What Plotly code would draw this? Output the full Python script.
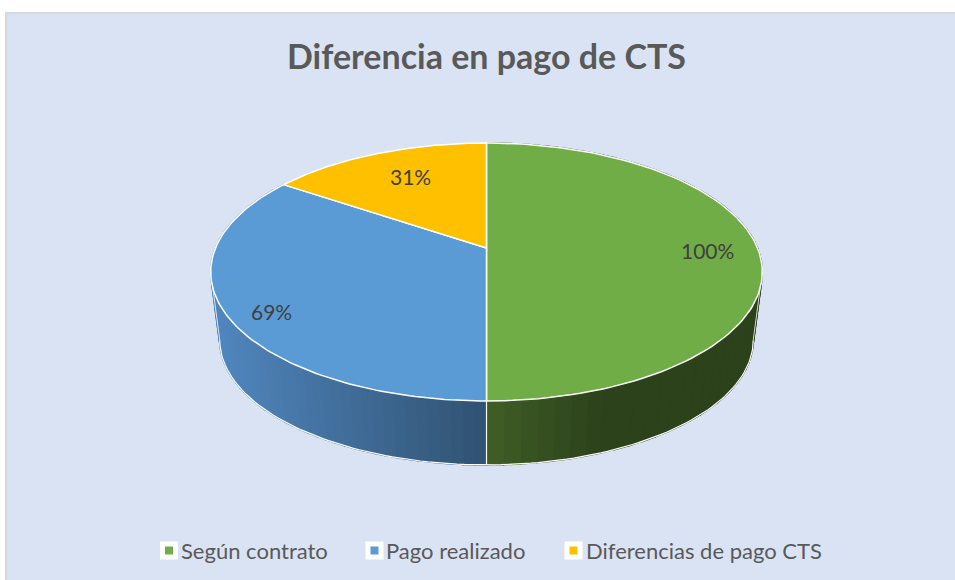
import numpy as np
import plotly.graph_objects as go

W, H = 955, 580

labels = ["Según contrato", "Pago realizado", "Diferencias de pago CTS"]
values = [100, 69, 31]
top_colors = ["#70ad47", "#5b9bd5", "#ffc000"]
# side wall gradient, left colour -> right colour and the x range it spans
wall_shades = [
    ((64, 94, 38), (44, 66, 27), 487, 600),
    ((80, 134, 190), (48, 82, 114), 215, 486),
    None,
]
label_x = [707, 271, 410]
label_y = [250, 311, 176]
legend_swatch_x = [169, 374.5, 573.5]
legend_text_x = [178.5, 384, 584]
legend_y = 550.5

# perspective of the tilted disc, in page pixels
CX, CY = 486.5, 248
RX, RY = 271, 124.5
K = 0.186
DROP, SHRINK = 69, 0.967


def project(theta, bottom=False):
    u, v = np.sin(theta), np.cos(theta)
    w = 1 + K * v
    x, y = RX * u / w, -RY * v / w
    if bottom:
        return CX + SHRINK * x, CY + DROP + SHRINK * y
    return CX + x, CY + y


def mix(a, b, t):
    t = min(max(t, 0), 1)
    c = [round(a[i] + (b[i] - a[i]) * t) for i in range(3)]
    return f"rgb({c[0]},{c[1]},{c[2]})"


def white_line(x, y, width=1.2):
    return go.Scatter(
        x=x, y=y, mode="lines",
        line=dict(color="white", width=width),
        hoverinfo="skip", showlegend=False,
    )


fig = go.Figure()

edges = np.cumsum([0] + values) / sum(values) * 2 * np.pi

# side walls first, top faces are painted over them
for i in range(len(values)):
    if wall_shades[i] is None:
        continue
    left, right, x0, x1 = wall_shades[i]
    steps = np.linspace(edges[i], edges[i + 1], 61)
    for a, b in zip(steps[:-1], steps[1:]):
        t = np.array([a, b])
        xt, yt = project(t)
        xb, yb = project(t, bottom=True)
        color = mix(left, right, (xt.mean() - x0) / (x1 - x0))
        fig.add_trace(go.Scatter(
            x=[xt[0], xt[1], xb[1], xb[0], xt[0]],
            y=[yt[0], yt[1], yb[1], yb[0], yt[0]],
            mode="lines",
            fill="toself",
            fillcolor=color,
            line=dict(color=color, width=1.5),
            hoverinfo="skip",
            showlegend=False,
        ))

# lower outline, only where the bottom rim is the silhouette
tangent = np.arccos(-K)
rim = np.linspace(tangent, 2 * np.pi - tangent, 121)
xb, yb = project(rim, bottom=True)
fig.add_trace(white_line(xb, yb, 1.2))

# silhouette edges from the top rim down to the bottom rim
for t in [tangent, 2 * np.pi - tangent]:
    sx, sy = project(np.array([t]))
    bx, by = project(np.array([t]), bottom=True)
    fig.add_trace(white_line([sx[0], bx[0]], [sy[0], by[0]], 0.8))

# seam between the two visible walls
sx, sy = project(np.array([np.pi]))
bx, by = project(np.array([np.pi]), bottom=True)
fig.add_trace(white_line([sx[0], bx[0]], [sy[0], by[0]], 1.2))

# top faces
for i in range(len(values)):
    t = np.linspace(edges[i], edges[i + 1], 121)
    x, y = project(t)
    fig.add_trace(go.Scatter(
        x=np.r_[CX, x, CX],
        y=np.r_[CY, y, CY],
        mode="lines",
        fill="toself",
        fillcolor=top_colors[i],
        line=dict(color="white", width=1.5),
        name=labels[i],
        showlegend=False,
        hovertemplate=f"{labels[i]}: {values[i]}%<extra></extra>",
    ))

# legend row
for i in range(len(values)):
    fig.add_trace(go.Scatter(
        x=[legend_swatch_x[i]], y=[legend_y], mode="markers",
        marker=dict(symbol="square", size=13, color=top_colors[i],
                    line=dict(color="white", width=5)),
        name=labels[i],
        hoverinfo="skip",
        showlegend=False,
    ))
    fig.add_annotation(
        x=legend_text_x[i], y=legend_y, text=labels[i], showarrow=False,
        xanchor="left",
        font=dict(family="Lato", size=22, color="#595959"),
    )

for i in range(len(values)):
    fig.add_annotation(
        x=label_x[i], y=label_y[i], text=f"{values[i]}%", showarrow=False,
        font=dict(family="Lato", size=21, color="#404040"),
    )

fig.update_layout(
    width=W,
    height=H,
    margin=dict(l=0, r=0, t=0, b=0),
    paper_bgcolor="white",
    plot_bgcolor="white",
    title=dict(
        text="Diferencia en pago de CTS",
        x=486.5 / W, y=1 - 57 / H, xanchor="center", yanchor="middle",
        font=dict(family="Lato", size=34, color="#595959", weight=700),
    ),
    xaxis=dict(range=[0, W], visible=False, fixedrange=True),
    yaxis=dict(range=[H, 0], visible=False, fixedrange=True),
    showlegend=False,
    shapes=[dict(
        type="rect", xref="x", yref="y", layer="below",
        x0=6, y0=13, x1=W + 5, y1=H + 5,
        fillcolor="#dae3f3", line=dict(color="#d9d9d9", width=2),
    )],
)

fig.write_html("out.html", config=dict(displayModeBar=False),
               post_script="document.body.style.margin='0';")
